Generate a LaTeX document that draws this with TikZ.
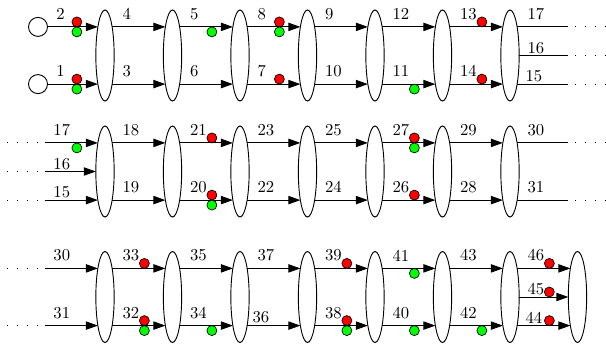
\documentclass[tikz,border=0pt]{standalone}
\usetikzlibrary{shapes.geometric, arrows.meta, calc}

\begin{document}
\begin{tikzpicture}[x=0.6pt, y=0.6pt, line width=0.55pt,
    blob/.style={draw, ellipse, minimum width=11pt, minimum height=54.6pt, inner sep=0pt, outer sep=0pt},
    src/.style={draw, circle, minimum size=11.4pt, inner sep=0pt},
    wire/.style={draw, -{Triangle[length=7.2pt, width=5pt]}},
    lead/.style={draw},
    dotline/.style={draw, line width=0.6pt, dash pattern=on 0.6pt off 5.4pt},
    lbl/.style={anchor=south west, inner sep=0pt, xshift=4.8pt, yshift=4pt},
    lblm/.style={lbl, xshift=1.2pt},
    lbllow/.style={lbl, yshift=-3pt},
    reddot/.style={draw=black, fill=red, line width=0.4pt},
    greendot/.style={draw=black, fill=green, line width=0.4pt}]

    \useasboundingbox (0,0) rectangle (606,350);

    % Ellipses, three rows
    \foreach \r/\y in {a/294.5, b/178.5, c/53}
        \foreach \i in {1,...,7}
            \node[blob] (\r\i) at ({105+67.5*(\i-1)}, \y) {};
    \node[blob] (c8) at (577.5, 53) {};

    % Helper x positions
    \coordinate (sx) at (38,0);
    \coordinate (dl) at (7,0);
    \coordinate (dm) at (40,0);
    \coordinate (sl) at (45,0);
    \coordinate (sr) at (568,0);
    \coordinate (dn) at (575,0);
    \coordinate (dr) at (606,0);

    % Sources of the first row
    \node[src] (s2) at (sx |- a1.104) {};
    \node[src] (s1) at (sx |- a1.256) {};
    \draw[wire] (s2) -- node[lbl, pos=0] {2} (a1.104);
    \draw[wire] (s1) -- node[lbl, pos=0] {1} (a1.256);

    % Wires between neighbouring ellipses
    \foreach \r/\i/\j/\t/\b in {a/1/2/4/3, a/2/3/5/6, a/3/4/8/7, a/4/5/9/10, a/5/6/12/11, a/6/7/13/14,
                               b/1/2/18/19, b/2/3/21/20, b/3/4/23/22, b/4/5/25/24, b/5/6/27/26, b/6/7/29/28,
                               c/1/2/33/32, c/2/3/35/34, c/4/5/39/38, c/5/6/41/40, c/6/7/43/42}
    {
        \draw[wire] (\r\i.76) -- node[lblm, pos=0] {\t} (\r\j.104);
        \draw[wire] (\r\i.284) -- node[lblm, pos=0] {\b} (\r\j.256);
    }
    \draw[wire] (c3.76) -- node[lblm, pos=0] {37} (c4.104);
    \draw[wire] (c3.284) -- node[lbl, pos=0, yshift=-2.4pt, xshift=-1.8pt] {36} (c4.256);

    % Outputs of the first row
    \draw[lead] (a7.76) -- node[lblm, pos=0] {17} (sr |- a7.76);
    \draw[lead] (a7.east) -- node[lbllow, pos=0] {16} (sr |- a7.east);
    \draw[lead] (a7.284) -- node[lbllow, pos=0] {15} (sr |- a7.284);
    \foreach \a in {76, 0, 284}
        \draw[dotline] (dn |- a7.\a) -- (dr |- a7.\a);

    % Inputs of the second row
    \foreach \a/\t/\s in {104/17/lbl, 180/16/lbllow, 256/15/lbllow}
    {
        \draw[dotline] (dl |- b1.\a) -- (dm |- b1.\a);
        \draw[wire] (sl |- b1.\a) -- node[\s, pos=0] {\t} (b1.\a);
    }

    % Outputs of the second row
    \draw[lead] (b7.76) -- node[lblm, pos=0] {30} (sr |- b7.76);
    \draw[lead] (b7.284) -- node[lblm, pos=0] {31} (sr |- b7.284);
    \foreach \a in {76, 284}
        \draw[dotline] (dn |- b7.\a) -- (dr |- b7.\a);

    % Inputs of the third row
    \foreach \a/\t in {104/30, 256/31}
    {
        \draw[dotline] (dl |- c1.\a) -- (dm |- c1.\a);
        \draw[wire] (sl |- c1.\a) -- node[lbl, pos=0] {\t} (c1.\a);
    }

    % Last ellipse of the third row
    \draw[wire] (c7.76) -- node[lblm, pos=0] {46} (c8.104);
    \draw[wire] (c7.east) -- node[lbllow, pos=0] {45} (c8.west);
    \draw[wire] (c7.284) -- node[lbllow, pos=0] {44} (c8.256);

    % Red and green dots
    \foreach \n in {a1.104, a1.256, a4.104, a4.256, a7.104, a7.256, b3.104, b3.256,
                    b6.104, b6.256, c2.104, c2.256, c5.104, c5.256, c8.104, c8.256}
        \filldraw[reddot] ($(\n)+(-21,5)$) circle (3pt);
    \filldraw[reddot] ($(c8.west)+(-19,5)$) circle (3pt);
    \foreach \n in {a1.104, a1.256, a3.104, a4.104, a6.256, b1.104, b3.256, b6.104,
                    c2.256, c3.256, c5.256, c6.104, c6.256, c7.256}
        \filldraw[greendot] ($(\n)+(-21,-5)$) circle (3pt);
\end{tikzpicture}
\end{document}
